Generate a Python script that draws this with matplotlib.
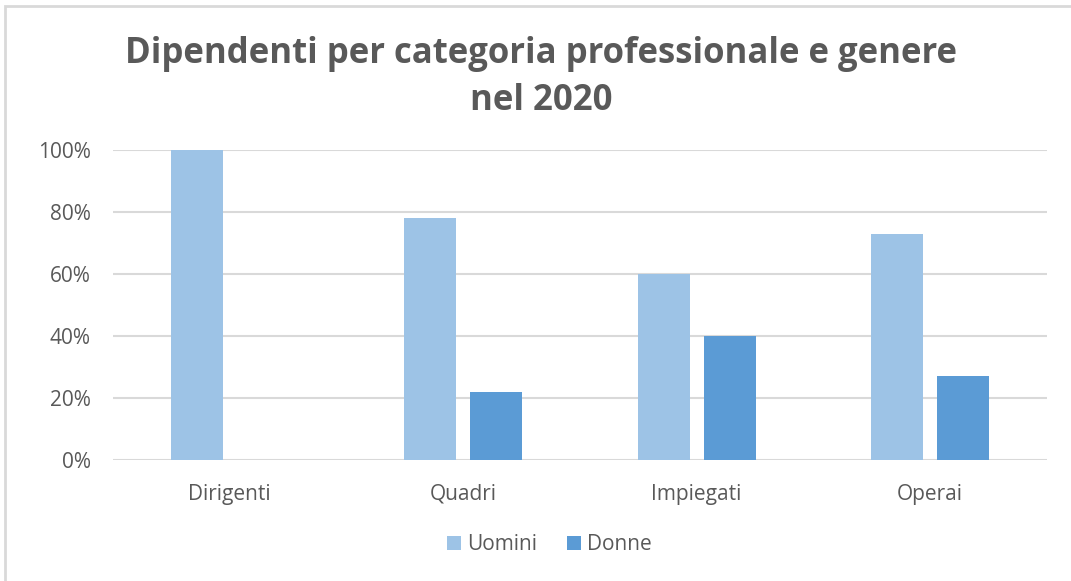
import matplotlib.pyplot as plt
from matplotlib.patches import Rectangle
from matplotlib.ticker import PercentFormatter
import numpy as np

categories = ['Dirigenti', 'Quadri', 'Impiegati', 'Operai']
uomini = [1.00, 0.78, 0.60, 0.73]
donne = [0.00, 0.22, 0.40, 0.27]
yticks = [0, 0.2, 0.4, 0.6, 0.8, 1.0]

txt = '#595959'
plt.rcParams['font.family'] = ['Open Sans', 'DejaVu Sans']

fig = plt.figure(figsize=(10.71, 5.81), dpi=100)
fig.patches.append(Rectangle((0.005, -0.01), 1.2, 1.0, transform=fig.transFigure,
                             fill=False, edgecolor='#d9d9d9', linewidth=2))
ax = fig.add_axes([0.1055, 0.2083, 0.872, 0.5335])

x = np.arange(len(categories))
w = 0.223
ax.bar(x - 0.141, uomini, w, color='#9DC3E6', label='Uomini', zorder=3)
ax.bar(x + 0.141, donne, w, color='#5B9BD5', label='Donne', zorder=3)

ax.set_xlim(-0.5, len(categories) - 0.5)
ax.set_ylim(0, 1.0)
ax.set_yticks(yticks)
ax.yaxis.set_major_formatter(PercentFormatter(1.0, decimals=0))
ax.set_xticks(x)
ax.set_xticklabels(categories)
ax.tick_params(length=0, labelcolor=txt, labelsize=15)
ax.tick_params(axis='y', pad=16)
ax.tick_params(axis='x', pad=17)
for s in ax.spines.values():
    s.set_visible(False)
ax.grid(axis='y', color='#d9d9d9', linewidth=1.5, zorder=0)

fig.text(0.505, 0.866, 'Dipendenti per categoria professionale e genere\nnel 2020',
         ha='center', va='center', fontsize=25, fontweight='bold', color=txt,
         linespacing=1.4)

fig.legend(loc='center', bbox_to_anchor=(0.513, 0.062), ncol=2, frameon=False,
           fontsize=15, labelcolor=txt, handlelength=0.7, handleheight=0.7,
           handletextpad=0.3, columnspacing=1.4)

fig.savefig('out.png')
